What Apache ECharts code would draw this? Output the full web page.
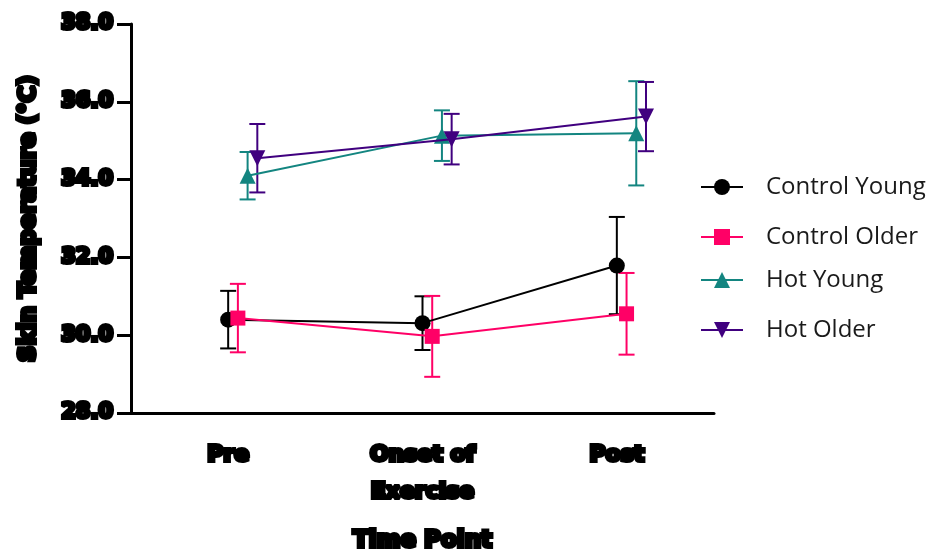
<!DOCTYPE html>
<html>
<head>
<meta charset="utf-8">
<script src="https://cdn.jsdelivr.net/npm/echarts@6/dist/echarts.min.js"></script>
<style>
  html, body { margin: 0; padding: 0; background: #fff; }
  #chart { width: 930px; height: 551px; }
</style>
</head>
<body>
<div id="chart"></div>
<script>
// Time points on the x axis
var categories = ['Pre', 'Onset of\nExercise', 'Post'];

// Mean skin temperature (°C) and error (±) per group
var controlYoungMean = [30.40, 30.31, 31.79];
var controlYoungErr  = [0.74, 0.69, 1.25];
var controlOlderMean = [30.44, 29.97, 30.55];
var controlOlderErr  = [0.88, 1.04, 1.05];
var hotYoungMean     = [34.10, 35.13, 35.19];
var hotYoungErr      = [0.61, 0.65, 1.34];
var hotOlderMean     = [34.55, 35.04, 35.62];
var hotOlderErr      = [0.88, 0.65, 0.89];

var groups = [
  { name: 'Control Young', mean: controlYoungMean, err: controlYoungErr, color: '#000000', symbol: 'circle', rotate: 0, nudge: 0.00, size: 16 },
  { name: 'Control Older', mean: controlOlderMean, err: controlOlderErr, color: '#FF0066', symbol: 'rect', rotate: 0, nudge: 0.05, size: 15 },
  { name: 'Hot Young', mean: hotYoungMean, err: hotYoungErr, color: '#138580', symbol: 'triangle', rotate: 0, nudge: 0.10, size: 16 },
  { name: 'Hot Older', mean: hotOlderMean, err: hotOlderErr, color: '#40007F', symbol: 'triangle', rotate: 180, nudge: 0.15, size: 16 }
];

var legendCenters = [187, 237, 280, 330];

var boldFont = {
  fontFamily: 'DejaVu Sans',
  fontWeight: 'bold',
  fontSize: 21,
  color: '#000',
  textBorderColor: '#000',
  textBorderWidth: 4
};

var series = [];
var legends = [];

groups.forEach(function (g, gi) {
  var pts = g.mean.map(function (m, i) { return [i + g.nudge, m]; });
  var bars = g.mean.map(function (m, i) { return [i + g.nudge, m - g.err[i], m + g.err[i]]; });

  // Error bars with caps
  series.push({
    type: 'custom',
    name: g.name + ' err',
    xAxisIndex: 1,
    z: 2,
    silent: true,
    data: bars,
    encode: { x: 0, y: [1, 2] },
    renderItem: function (params, api) {
      var x = api.value(0);
      var lo = api.coord([x, api.value(1)]);
      var hi = api.coord([x, api.value(2)]);
      var half = 8;
      var style = { stroke: g.color, lineWidth: 2, fill: null };
      return {
        type: 'group',
        children: [
          { type: 'line', shape: { x1: lo[0], y1: lo[1], x2: hi[0], y2: hi[1] }, style: style },
          { type: 'line', shape: { x1: lo[0] - half, y1: lo[1], x2: lo[0] + half, y2: lo[1] }, style: style },
          { type: 'line', shape: { x1: hi[0] - half, y1: hi[1], x2: hi[0] + half, y2: hi[1] }, style: style }
        ]
      };
    }
  });

  // Mean line with markers
  series.push({
    type: 'line',
    name: g.name,
    xAxisIndex: 1,
    z: 3 + gi,
    data: pts,
    symbol: g.symbol,
    symbolSize: g.size,
    symbolRotate: g.rotate,
    showAllSymbol: true,
    lineStyle: { color: g.color, width: 2 },
    itemStyle: { color: g.color, borderWidth: 0 },
    animation: false
  });

  legends.push({
    data: [g.name],
    left: 700,
    top: legendCenters[gi] - 12,
    padding: 0,
    orient: 'vertical',
    itemWidth: 42,
    itemHeight: 20,
    selectedMode: false,
    textStyle: {
      fontFamily: 'Open Sans',
      fontSize: 24,
      color: '#1a1a1a',
      padding: [0, 0, 0, 18]
    }
  });
});

var chart = echarts.init(document.getElementById('chart'), null, { renderer: 'canvas' });
chart.setOption({
  backgroundColor: '#ffffff',
  animation: false,
  legend: legends,
  grid: {
    left: 131, top: 24, width: 583, height: 389,
    containLabel: false,
    outerBoundsMode: 'none'
  },
  xAxis: [
    {
      type: 'category',
      data: categories,
      boundaryGap: true,
      axisLine: { onZero: false, lineStyle: { color: '#000', width: 3 } },
      axisTick: { alignWithLabel: true, length: 14, lineStyle: { color: '#000', width: 3 } },
      axisLabel: Object.assign({ margin: 24, lineHeight: 37 }, boldFont, { fontSize: 22 }),
      name: 'Time Point',
      nameLocation: 'middle',
      nameGap: 117,
      nameTextStyle: Object.assign({}, boldFont, { fontSize: 23 }),
      splitLine: { show: false }
    },
    {
      type: 'value',
      min: -0.5,
      max: 2.5,
      show: false
    }
  ],
  yAxis: {
    type: 'value',
    min: 28,
    max: 38,
    interval: 2,
    axisLine: { show: true, onZero: false, lineStyle: { color: '#000', width: 3 } },
    axisTick: { show: true, length: 14, lineStyle: { color: '#000', width: 3 } },
    axisLabel: Object.assign({
      margin: 18,
      formatter: function (v) { return v.toFixed(1); }
    }, boldFont),
    splitLine: { show: false },
    name: 'Skin Temperature (°C)',
    nameLocation: 'middle',
    nameGap: 90,
    nameTextStyle: Object.assign({}, boldFont, { fontSize: 23 })
  },
  series: series
});
</script>
</body>
</html>
